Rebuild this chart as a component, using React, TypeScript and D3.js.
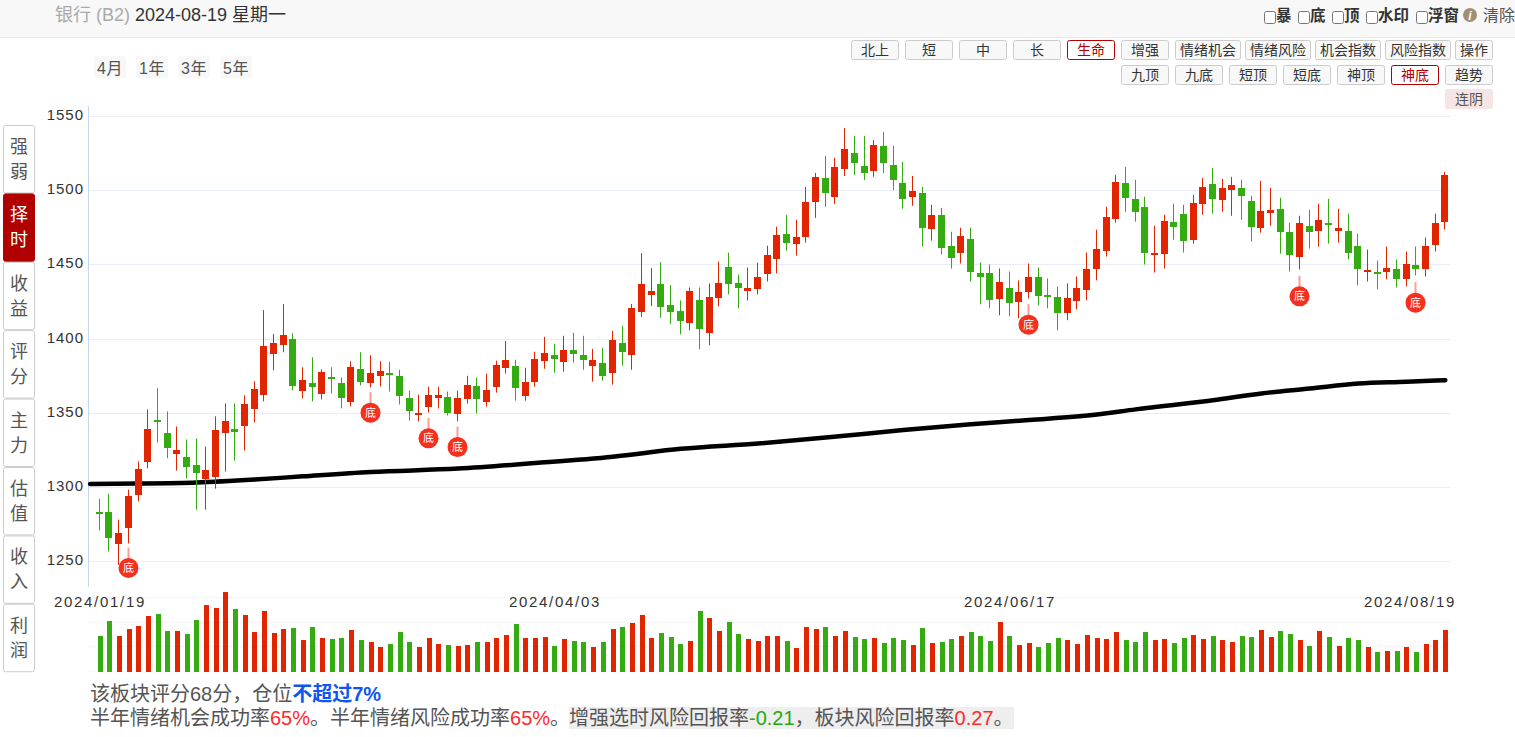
import React from 'react';
import * as d3 from 'd3';

const highs = [
  1292.1,1295.5,1278,1298.2,1317.2,1352.3,1366.5,1350.9,1340.8,1332,
  1332.7,1327.3,1347.6,1356.3,1356.3,1361.7,1371.2,1419.2,1403,1423.2,
  1403.6,1380.7,1387.4,1379.3,1380.7,1373.9,1384.7,1390.8,1388.8,1384.7,
  1384.4,1379,1365,1362.3,1367.6,1367.6,1364.3,1365,1375,1373.7,
  1376.4,1385.1,1398.5,1385.8,1380.4,1391.1,1401.2,1396.5,1401.9,1403.9,
  1401.9,1393.1,1393.8,1405.2,1408.6,1423.3,1457.6,1447.5,1451.5,1436.1,
  1425.7,1434.5,1434.5,1437.1,1451.9,1457.9,1443.2,1447.9,1451.2,1462.6,
  1475.4,1483.4,1480.1,1502.2,1511.6,1523,1521.7,1541.8,1536.5,1536.5,
  1533.8,1539.1,1529.8,1519,1509.6,1502.2,1490.2,1488.1,1472,1474.7,
  1474.8,1451.3,1449.9,1447.3,1445.2,1439.2,1450.6,1447.9,1440.5,1435.2,
  1437.2,1441.9,1458,1473.4,1488.9,1510.3,1515.7,1507,1495.6,1476.1,
  1483.5,1490.9,1490.2,1496.9,1508.3,1515,1507.6,1509,1507,1496.2,
  1506.3,1501.6,1494.9,1478.1,1482.8,1486.8,1490.9,1494.2,1487.5,1484.2,
  1470.7,1460,1452.6,1462,1453.3,1458.7,1462,1468.1,1484.2,1512.3,
];

const lows = [
  1270.7,1256.6,1247.6,1262,1290.3,1312.6,1330,1319.4,1311.1,1305.7,
  1284.7,1284.7,1298.9,1310.4,1317.8,1324.6,1343.5,1357.7,1378.6,1390.8,
  1365.1,1359.7,1357.7,1359,1363.1,1353,1354.3,1368.5,1367.1,1367.8,
  1364.3,1355.6,1344.8,1344.2,1350.2,1352.9,1348.2,1344.2,1356.2,1349.5,
  1354.2,1363.6,1376.4,1358.2,1358.2,1367.6,1379.7,1377,1377.7,1383.8,
  1379,1371,1371.7,1369,1381.7,1379,1414.6,1422,1414,1409.9,
  1402.9,1405.6,1392.8,1395.5,1421.7,1429.8,1420.4,1425.7,1429.8,1438.5,
  1443.9,1459.3,1455.9,1464.7,1481.4,1488.8,1490.8,1509.6,1510.3,1506.9,
  1509,1511.6,1500.2,1487.5,1489.5,1462,1466,1456.6,1447.2,1450.6,
  1438.5,1423.1,1420.4,1415.7,1415,1413.7,1427.1,1422.4,1420.4,1405.6,
  1412.4,1419.7,1425.8,1439.2,1455.3,1478.1,1485.5,1478.8,1449.9,1444.6,
  1447.2,1466.7,1458,1464,1483.5,1484.2,1485.5,1482.8,1480.1,1465.4,
  1471.4,1476.1,1457.3,1445.2,1446.6,1460.7,1462,1464,1464.7,1453.3,
  1435.8,1438.5,1433.2,1439.9,1434.5,1435.2,1442.6,1441.9,1458.7,1473.4,
];

const opens = [
  1283.3,1283.4,1261.3,1272.1,1294.4,1316.7,1344.9,1336.7,1322.1,1319.9,
  1314.5,1305.2,1306.6,1336.3,1338.8,1341,1352.5,1361.7,1389.7,1395.7,
  1399.6,1364.7,1369.8,1362.6,1373.9,1369.8,1357.2,1379.3,1370.1,1374.6,
  1377,1375,1360.3,1348.9,1354.2,1360.3,1360.9,1349.5,1359.6,1368.3,
  1357.6,1367.6,1380.4,1381.7,1361.6,1371,1385.1,1389.1,1384.4,1392.5,
  1389.1,1381.7,1383.8,1377,1397.2,1389.1,1418,1429.4,1436.8,1422.7,
  1418.3,1410.3,1425.7,1403.6,1427.1,1448.5,1437.8,1432.4,1433.1,1443.2,
  1453.9,1470.7,1464,1468.7,1492.2,1508.3,1495.5,1514.3,1525,1516.3,
  1513,1529.8,1517,1504.9,1495.5,1498.2,1474,1483.4,1462.6,1458,
  1467.4,1443.9,1443.9,1426.4,1433.8,1424.4,1431.1,1441.2,1429.1,1427.8,
  1417.1,1425.1,1432.5,1446.6,1459.3,1480.8,1505,1494.2,1488.9,1457.3,
  1457.3,1478.8,1484.2,1466.7,1490.9,1504.3,1493.6,1500.3,1501.6,1492.9,
  1474.8,1484.8,1487.5,1472.1,1455.3,1476.1,1472.8,1478.1,1472.8,1472.8,
  1462.7,1445.5,1445.2,1445.2,1446.6,1439.9,1449.9,1446.6,1463.4,1478.8,
];

const closes = [
  1282.2,1265.4,1269.2,1294.2,1312.4,1339.4,1343.7,1326.2,1324.6,1313.3,
  1309.3,1311.7,1338.1,1344.2,1337,1355.7,1365.8,1394.8,1396.9,1402.3,
  1368,1371.9,1367.4,1377.3,1372.6,1359.9,1380.7,1370.8,1376.6,1378,
  1375.7,1361.2,1350.9,1350.2,1362.3,1362.3,1350.2,1360.3,1369,1359.6,
  1365.6,1382.4,1385.8,1367,1371,1386.4,1390.5,1386.4,1392.5,1389.8,
  1385.8,1385.8,1375,1399.2,1391.1,1420.7,1436.8,1432,1421.3,1418,
  1411.9,1432.4,1406.3,1427.7,1437.8,1436.5,1433.8,1433.8,1441.8,1456.6,
  1470,1464.7,1468.7,1492.2,1508.9,1498.2,1515.7,1527.7,1518.3,1511.6,
  1530.4,1518.3,1506.9,1494.2,1499.5,1474.7,1483.4,1461.3,1454.6,1469.4,
  1444.8,1441.4,1426,1437.9,1423.8,1431.1,1441.2,1428.5,1428.5,1417.1,
  1427.1,1433.8,1446.6,1460.7,1482.1,1505.6,1494.9,1485.5,1458,1458,
  1479.5,1475.4,1466,1491.5,1502.3,1494.2,1501.6,1503.6,1496.2,1475.4,
  1486.2,1486.8,1472.1,1456,1478.1,1472.1,1480.1,1477.7,1474.8,1458,
  1446.6,1445.9,1444.6,1447.9,1439.9,1450.6,1446.6,1462.7,1478.1,1510.3,
];

const volumes = [
  36,51,36,43,46,56,58,41,41,38,52,67,64,80,63,57,40,61,39,43,
  44,32,45,34,33,34,42,32,30,25,28,40,30,25,34,28,27,26,27,30,
  30,34,37,48,34,34,35,26,33,31,30,25,30,43,45,49,57,34,39,35,
  28,31,61,54,41,50,38,33,31,36,36,31,24,45,43,45,36,41,35,33,
  34,29,34,32,27,44,29,30,33,36,40,36,31,50,36,27,29,25,29,34,
  32,28,37,34,33,40,32,30,40,32,33,29,34,37,33,36,32,30,36,35,
  42,35,41,38,32,26,41,35,26,34,32,25,20,21,21,25,20,28,32,42,
];

// sampled off the thick black line, candle index -> level
const lifeIndex = [-1,4,10,16,21,28,37,45,53,60,68,75,83,90,96,103,107,115,120,125,130,135,139];
const lifeValues = [1302.1,1302.3,1303,1305,1307.2,1310.1,1312.4,1316.1,1320.4,1325.7,1329.3,1333.3,1338.4,1342.3,1345.1,1348.8,1352.3,1358.5,1363,1366.3,1369.7,1370.9,1372];

// candle index and the price level the badge sits on
const bottomSignals = [3, 28, 34, 37, 96, 124, 136];
const bottomLevels = [1245.4, 1350.1, 1332.8, 1326.9, 1409.4, 1428.5, 1424.2];

const priceTicks = [1250, 1300, 1350, 1400, 1450, 1500, 1550];
const volumeTicks = [0, 25, 49, 74];
const dateTicks = [
  { i: 0, label: '2024/01/19', x: 100 },
  { i: 47, label: '2024/04/03', x: 555 },
  { i: 94, label: '2024/06/17', x: 1010 },
  { i: 139, label: '2024/08/19', x: 1410 },
];

const periodButtons = ['4月', '1年', '3年', '5年'];
const sideTabs = ['强弱', '择时', '收益', '评分', '主力', '估值', '收入', '利润'];
const row1 = [['北上',851,48],['短',905,48],['中',959,48],['长',1013,48],['生命',1067,48],['增强',1121,48],['情绪机会',1175,66],['情绪风险',1245,66],['机会指数',1315,66],['风险指数',1385,66],['操作',1455,38]] as const;
const row2 = [['九顶',1121,48],['九底',1175,48],['短顶',1229,48],['短底',1283,48],['神顶',1337,48],['神底',1391,48],['趋势',1445,48]] as const;
const activeButtons = ['生命', '神底'];
const checks = [['暴',1264],['底',1298],['顶',1332],['水印',1366],['浮窗',1416]] as const;

const RED = '#e02500';
const GREEN = '#33ab11';
const FONT = '"Liberation Sans", "Noto Sans CJK SC", sans-serif';

const x = d3.scaleLinear().domain([0, 139]).range([99.8, 1445.3]);
const y = d3.scaleLinear().domain([1250, 1550]).range([561.2, 116]);
const yVol = d3.scaleLinear().domain([0, 80]).range([672, 592]);

const lifeLine = d3.line<number>()
  .x((_, i) => x(lifeIndex[i]))
  .y(d => y(d))
  .curve(d3.curveMonotoneX);

const Button: React.FC<{ label: string; bx: number; by: number; w: number }> = ({ label, bx, by, w }) => {
  const active = activeButtons.includes(label);
  return (
    <g>
      <rect x={bx + 0.5} y={by + 0.5} width={w - 1} height={19} rx={2}
        fill={active ? '#fff' : '#f8f8f8'} stroke={active ? '#b00000' : '#ccc'} />
      <text x={bx + w / 2} y={by + 15} textAnchor="middle" fontSize={14} fill={active ? '#b00000' : '#333'}>{label}</text>
    </g>
  );
};

const App: React.FC = () => {
  return (
    <svg width={1515} height={737} fontFamily={FONT} style={{ position: 'fixed', left: 0, top: 0, background: '#fff' }}>
      {/* header */}
      <rect x={0} y={0} width={1515} height={37} fill="#f8f8f8" />
      <line x1={0} x2={1515} y1={37.5} y2={37.5} stroke="#eaeaea" />
      <text x={55} y={21} fontSize={18} fill="#aaa">银行 (B2)</text>
      <text x={135} y={21} fontSize={18} fill="#333">2024-08-19 星期一</text>
      {checks.map(([label, cx]) => (
        <g key={label}>
          <rect x={cx + 0.5} y={11.5} width={11} height={12} rx={2} fill="#fff" stroke="#777" />
          <text x={cx + 12} y={20.5} fontSize={15.5} fontWeight={700} fill="#333">{label}</text>
        </g>
      ))}
      <circle cx={1470} cy={15} r={7} fill="#a38f77" />
      <text x={1470} y={19.5} fontSize={12} fontStyle="italic" fontWeight={700} fill="#fff" textAnchor="middle">i</text>
      <text x={1483} y={20.5} fontSize={16} fill="#555">清除</text>

      {/* period + indicator buttons */}
      {periodButtons.map((label, i) => (
        <g key={label}>
          <rect x={94 + i * 42} y={56} width={32} height={22} rx={2} fill="#f8f8f8" />
          <text x={110 + i * 42} y={73.5} fontSize={16} letterSpacing={0.5} textAnchor="middle" fill="#555">{label}</text>
        </g>
      ))}
      {row1.map(([label, bx, w]) => <Button key={label} label={label} bx={bx} by={40} w={w} />)}
      {row2.map(([label, bx, w]) => <Button key={label} label={label} bx={bx} by={65} w={w} />)}
      <rect x={1445} y={89} width={48} height={20} rx={2} fill="#f7e4e4" />
      <text x={1469} y={104} textAnchor="middle" fontSize={14} fill="#555">连阴</text>

      {/* side tabs */}
      {sideTabs.map((label, i) => {
        const top = 125 + i * 68.4;
        const on = label === '择时';
        return (
          <g key={label}>
            <rect x={3.5} y={top + 0.5} width={31} height={67.4} rx={2}
              fill={on ? '#b00000' : '#fff'} stroke={on ? '#b00000' : '#ccc'} />
            <text x={19} y={top + 28} fontSize={18} textAnchor="middle" fill={on ? '#fff' : '#555'}>{label[0]}</text>
            <text x={19} y={top + 53} fontSize={18} textAnchor="middle" fill={on ? '#fff' : '#555'}>{label[1]}</text>
          </g>
        );
      })}

      {/* price grid and axis */}
      {priceTicks.map(t => (
        <g key={t}>
          <line x1={89} x2={1450} y1={Math.round(y(t)) + 0.5} y2={Math.round(y(t)) + 0.5} stroke="#e8ecf3" />
          <text x={84} y={Math.round(y(t)) + 4} fontSize={15} letterSpacing={1} textAnchor="end" fill="#333">{t}</text>
        </g>
      ))}
      <line x1={88.5} x2={88.5} y1={106} y2={587} stroke="#c8d6ea" />

      {/* volume grid */}
      {volumeTicks.map(t => (
        <line key={t} x1={89} x2={1450} y1={yVol(t) - 0.5} y2={yVol(t) - 0.5} stroke="#f5f5fa" strokeWidth={1.5} />
      ))}

      {/* life line sits under the candles */}
      <path d={lifeLine(lifeValues) ?? ''} fill="none" stroke="#000" strokeWidth={4.5} strokeLinecap="round" />

      {/* candles */}
      {opens.map((o, i) => {
        const c = closes[i];
        const color = c >= o ? RED : GREEN;
        const px = Math.floor(x(i) - 0.5);
        const top = Math.round(y(Math.max(o, c)));
        const h = Math.max(2, Math.round(y(Math.min(o, c))) - top);
        return (
          <g key={i}>
            <rect x={px} y={y(highs[i])} width={1} height={y(lows[i]) - y(highs[i])} fill={color} />
            <rect x={px - 3} y={top} width={7} height={h} fill={color} />
          </g>
        );
      })}

      {/* signals */}
      {bottomSignals.map((i, k) => {
        const cx = Math.floor(x(i) - 0.5) + 0.5;
        const cy = y(bottomLevels[k]);
        return (
          <g key={i}>
            <line x1={cx} x2={cx} y1={cy - 20.5} y2={cy - 8} stroke="#ff9a94" strokeWidth={2} />
            <circle cx={cx} cy={cy} r={10} fill="#f5301e" />
            <text x={cx} y={cy + 4} fontSize={11} textAnchor="middle" fill="#fff">底</text>
          </g>
        );
      })}

      {/* volume bars */}
      {volumes.map((v, i) => (
        <rect key={i} x={Math.floor(x(i) - 1.8)} y={yVol(v)} width={5} height={yVol(0) - yVol(v)}
          fill={closes[i] >= opens[i] ? RED : GREEN} />
      ))}

      {/* date labels */}
      {dateTicks.map(d => (
        <text key={d.i} x={d.x} y={607} fontSize={15} letterSpacing={1.7} textAnchor="middle" fill="#333">{d.label}</text>
      ))}

      {/* notes */}
      <text x={90} y={701} fontSize={20} fill="#555">
        该板块评分68分，仓位<tspan fill="#1056f0" fontWeight={700}>不超过7%</tspan>
      </text>
      <rect x={569} y={707} width={445} height={22} fill="#eee" />
      <text x={90} y={725} fontSize={20} fill="#555">
        半年情绪机会成功率<tspan fill="#ff2a2a">65%</tspan>。半年情绪风险成功率<tspan fill="#ff2a2a">65%</tspan>。
      </text>
      <text x={569} y={725} fontSize={20} fill="#555">
        增强选时风险回报率<tspan fill="#22aa11">-0.21</tspan>，板块风险回报率<tspan fill="#ff2a2a">0.27</tspan>。
      </text>
    </svg>
  );
};

export default App;
